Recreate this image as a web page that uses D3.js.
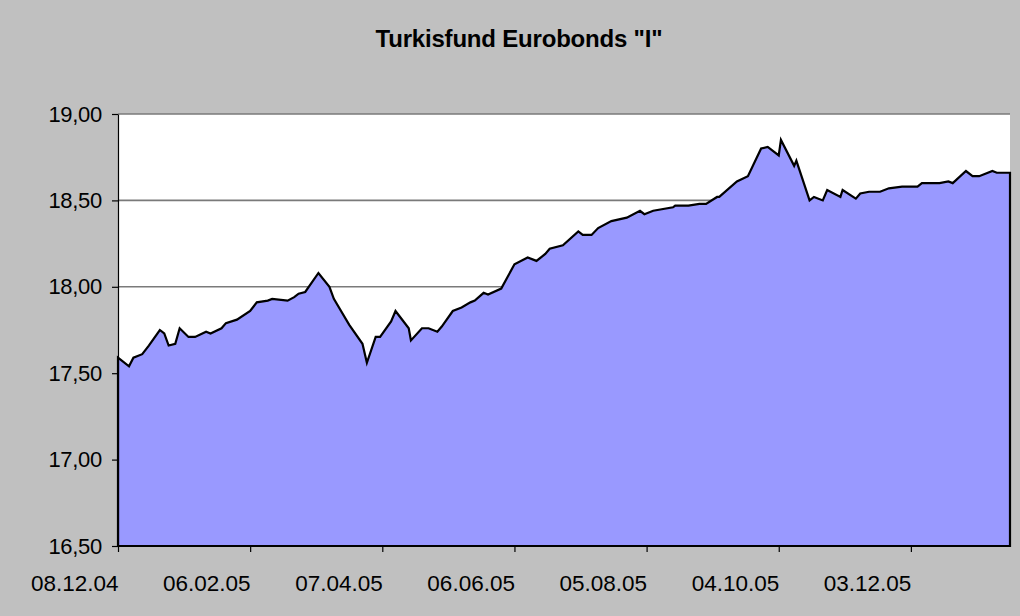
<!DOCTYPE html>
<html>
<head>
<meta charset="utf-8">
<script src="https://cdn.jsdelivr.net/npm/d3@7"></script>
<style>
  html, body { margin: 0; padding: 0; background: #c0c0c0; }
  svg { display: block; font-family: "Liberation Sans", Arial, sans-serif; }
</style>
</head>
<body>
<svg class="chart"></svg>
<script>
// values (date, NAV)
var dates = [
  "2004-12-08","2004-12-13","2004-12-15","2004-12-19","2004-12-22","2004-12-27","2004-12-29","2004-12-31",
  "2005-01-03","2005-01-05","2005-01-09","2005-01-12","2005-01-17","2005-01-19","2005-01-24","2005-01-26","2005-01-31",
  "2005-02-06","2005-02-09","2005-02-14","2005-02-16","2005-02-23","2005-02-26","2005-02-28",
  "2005-03-03","2005-03-09","2005-03-14","2005-03-16","2005-03-23","2005-03-29","2005-03-31",
  "2005-04-04","2005-04-06","2005-04-11","2005-04-13","2005-04-19","2005-04-20","2005-04-25","2005-04-28",
  "2005-05-02","2005-05-04","2005-05-09","2005-05-13","2005-05-17","2005-05-19","2005-05-23","2005-05-25","2005-05-31",
  "2005-06-06","2005-06-12","2005-06-16","2005-06-20","2005-06-22","2005-06-28",
  "2005-07-05","2005-07-07","2005-07-11","2005-07-14","2005-07-20","2005-07-27",
  "2005-08-02","2005-08-04","2005-08-08","2005-08-17","2005-08-18","2005-08-24","2005-08-29",
  "2005-09-01","2005-09-06","2005-09-07","2005-09-15","2005-09-20","2005-09-26","2005-09-29",
  "2005-10-04","2005-10-05","2005-10-11","2005-10-12","2005-10-18","2005-10-20","2005-10-24","2005-10-26",
  "2005-11-01","2005-11-02","2005-11-08","2005-11-10","2005-11-14","2005-11-19","2005-11-23","2005-11-29",
  "2005-12-06","2005-12-08","2005-12-16","2005-12-20","2005-12-22","2005-12-28","2005-12-31",
  "2006-01-03","2006-01-09","2006-01-11","2006-01-17"
];
var values = [
  17.59,17.54,17.59,17.61,17.66,17.75,17.73,17.66,
  17.67,17.76,17.71,17.71,17.74,17.73,17.76,17.79,17.81,
  17.86,17.91,17.92,17.93,17.92,17.94,17.96,
  17.97,18.08,18.00,17.93,17.78,17.67,17.56,
  17.71,17.71,17.80,17.86,17.76,17.69,17.76,17.76,
  17.74,17.77,17.86,17.88,17.91,17.92,17.965,17.955,17.99,
  18.13,18.17,18.15,18.19,18.22,18.24,
  18.32,18.30,18.30,18.34,18.38,18.40,
  18.44,18.42,18.44,18.46,18.47,18.47,18.48,
  18.48,18.52,18.52,18.61,18.64,18.80,18.81,
  18.76,18.85,18.70,18.73,18.50,18.52,18.50,18.56,
  18.52,18.56,18.51,18.54,18.55,18.55,18.57,18.58,
  18.58,18.60,18.60,18.61,18.60,18.67,18.64,
  18.64,18.67,18.66,18.66
];
var xTickLabels = ["08.12.04","06.02.05","07.04.05","06.06.05","05.08.05","04.10.05","03.12.05"];
var yTickValues = [16.5, 17, 17.5, 18, 18.5, 19];
var title = 'Turkisfund Eurobonds "I"';

var W = 1020, H = 616;
var margin = {top: 114, right: 10, bottom: 70, left: 118},
    width = W - margin.left - margin.right,
    height = H - margin.top - margin.bottom;

var parse = d3.timeParse("%Y-%m-%d"),
    parseTick = d3.timeParse("%d.%m.%y");

var data = dates.map(function(d, i) { return {date: parse(d), value: values[i]}; });

var chart = d3.select('.chart')
    .attr('width', W)
    .attr('height', H);

chart.append('rect')
    .attr('width', W).attr('height', H)
    .attr('fill', '#c0c0c0');

chart.append('text')
    .attr('x', 519).attr('y', 47)
    .attr('text-anchor', 'middle')
    .attr('font-size', 24).attr('font-weight', 'bold')
    .attr('letter-spacing', -0.2)
    .attr('fill', '#000')
    .text(title);

var g = chart.append('g')
    .attr('transform', 'translate(' + margin.left + ',' + margin.top + ')');

var x = d3.scaleTime()
    .domain(d3.extent(data, function(d) { return d.date; }))
    .range([0, width]);
var y = d3.scaleLinear().domain([16.5, 19]).range([height, 0]);

// plot area
g.append('rect')
    .attr('width', width).attr('height', height)
    .attr('fill', '#fff');

// gridlines
g.selectAll('.grid')
    .data(yTickValues.slice(1))
  .enter().append('line')
    .attr('class', 'grid')
    .attr('x1', 0).attr('x2', width)
    .attr('y1', function(d) { return y(d); })
    .attr('y2', function(d) { return y(d); })
    .attr('stroke', '#7a7a7a').attr('stroke-width', 1.6);

var area = d3.area()
    .x(function(d) { return x(d.date); })
    .y0(y(16.5))
    .y1(function(d) { return y(d.value); });

g.append('path')
    .datum(data)
    .attr('d', area)
    .attr('fill', '#9999ff')
    .attr('stroke', '#000')
    .attr('stroke-width', 2.2)
    .attr('stroke-linejoin', 'miter');

var fmtY = function(d) { return d3.format('.2f')(d).replace('.', ','); };

var yAxis = g.append('g')
    .attr('class', 'axis axis--y')
    .call(d3.axisLeft(y).tickValues(yTickValues).tickFormat(fmtY).tickSize(6).tickSizeOuter(0).tickPadding(10));

var xAxis = g.append('g')
    .attr('class', 'axis axis--x')
    .attr('transform', 'translate(0,' + height + ')')
    .call(d3.axisBottom(x)
      .tickValues(xTickLabels.map(function(s) { return parseTick(s); }))
      .tickFormat(d3.timeFormat('%d.%m.%y'))
      .tickSize(6).tickSizeOuter(0));

chart.selectAll('.axis path, .axis line')
    .attr('stroke', '#000').attr('stroke-width', 1.2);
chart.selectAll('.axis text')
    .attr('fill', '#000')
    .attr('font-family', '"Liberation Sans", Arial, sans-serif');

yAxis.selectAll('text')
    .attr('font-size', 22)
    .attr('letter-spacing', -0.3);

xAxis.selectAll('text')
    .attr('font-size', 22.5)
    .attr('text-anchor', 'end')
    .attr('y', 0).attr('dy', 0)
    .attr('transform', 'translate(0,45)');
</script>
</body>
</html>
